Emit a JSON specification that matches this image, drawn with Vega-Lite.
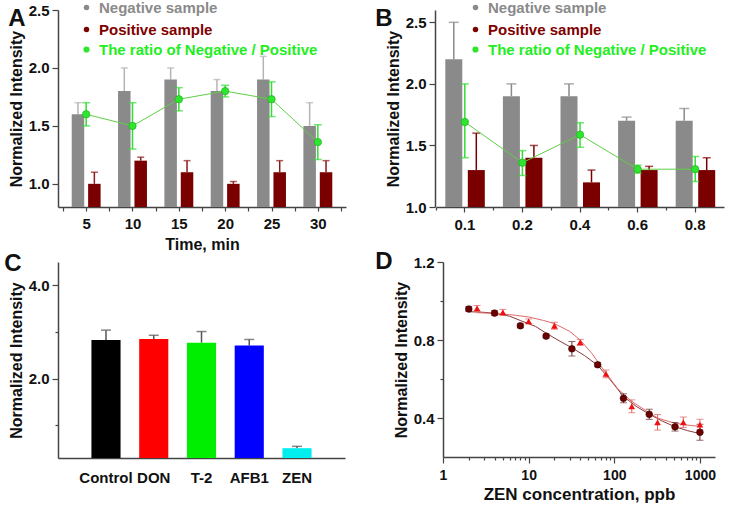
{
  "$schema": "https://vega.github.io/schema/vega-lite/v6.json",
  "background": "white",
  "padding": {"left": 4, "top": 0, "right": 2, "bottom": 2},
  "spacing": -2,
  "resolve": {"scale": {"x": "independent", "y": "independent", "color": "independent", "fill": "independent", "shape": "independent"}},
  "datasets": {
    "dCirc": [
      {"conc": 2, "y": 0.959, "err": 0.012}, {"conc": 4, "y": 0.938, "err": 0.012}, {"conc": 8, "y": 0.873, "err": 0.01},
      {"conc": 16, "y": 0.82, "err": 0.01}, {"conc": 32, "y": 0.755, "err": 0.037}, {"conc": 64, "y": 0.673, "err": 0.01},
      {"conc": 128, "y": 0.501, "err": 0.023}, {"conc": 256, "y": 0.419, "err": 0.026}, {"conc": 512, "y": 0.355, "err": 0.022},
      {"conc": 1000, "y": 0.327, "err": 0.041}
    ],
    "dTri": [
      {"conc": 2.5, "y": 0.962, "err": 0.015}, {"conc": 5, "y": 0.942, "err": 0.015}, {"conc": 10, "y": 0.896, "err": 0.012},
      {"conc": 20, "y": 0.873, "err": 0.018}, {"conc": 40, "y": 0.788, "err": 0.015}, {"conc": 80, "y": 0.626, "err": 0.02},
      {"conc": 160, "y": 0.46, "err": 0.033}, {"conc": 320, "y": 0.378, "err": 0.04}, {"conc": 640, "y": 0.378, "err": 0.027},
      {"conc": 1000, "y": 0.366, "err": 0.027}
    ],
    "fitCirc": [
      {"conc": 2, "y": 0.945}, {"conc": 3, "y": 0.942}, {"conc": 4, "y": 0.937}, {"conc": 6, "y": 0.922}, {"conc": 8, "y": 0.9},
      {"conc": 12, "y": 0.87}, {"conc": 16, "y": 0.835}, {"conc": 24, "y": 0.79}, {"conc": 32, "y": 0.76}, {"conc": 45, "y": 0.72},
      {"conc": 64, "y": 0.67}, {"conc": 90, "y": 0.595}, {"conc": 128, "y": 0.51}, {"conc": 180, "y": 0.46}, {"conc": 256, "y": 0.42},
      {"conc": 360, "y": 0.385}, {"conc": 512, "y": 0.355}, {"conc": 720, "y": 0.335}, {"conc": 1000, "y": 0.32}
    ],
    "fitTri": [
      {"conc": 2.5, "y": 0.94}, {"conc": 3.5, "y": 0.937}, {"conc": 5, "y": 0.933}, {"conc": 7, "y": 0.927}, {"conc": 10, "y": 0.918},
      {"conc": 15, "y": 0.9}, {"conc": 20, "y": 0.884}, {"conc": 30, "y": 0.845}, {"conc": 40, "y": 0.8}, {"conc": 55, "y": 0.73},
      {"conc": 80, "y": 0.63}, {"conc": 110, "y": 0.55}, {"conc": 160, "y": 0.485}, {"conc": 250, "y": 0.43}, {"conc": 320, "y": 0.4},
      {"conc": 450, "y": 0.38}, {"conc": 640, "y": 0.366}, {"conc": 1000, "y": 0.357}
    ]
  },
  "vconcat": [
    {
      "spacing": 29,
      "resolve": {"scale": {"x": "independent", "y": "independent", "color": "independent", "fill": "independent", "shape": "independent"}},
      "hconcat": [
        {
          "width": 288, "height": 197,
          "title": {"text": "A", "offset": -31},
          "data": {"values": [
            {"time": 5, "neg": 1.6, "negHi": 1.7, "pos": 1.0, "posHi": 1.1, "ratio": 1.6, "rLo": 1.5, "rHi": 1.7},
            {"time": 10, "neg": 1.8, "negHi": 2.0, "pos": 1.2, "posHi": 1.23, "ratio": 1.5, "rLo": 1.3, "rHi": 1.7},
            {"time": 15, "neg": 1.9, "negHi": 2.0, "pos": 1.1, "posHi": 1.2, "ratio": 1.73, "rLo": 1.63, "rHi": 1.83},
            {"time": 20, "neg": 1.8, "negHi": 1.9, "pos": 1.0, "posHi": 1.02, "ratio": 1.8, "rLo": 1.75, "rHi": 1.85},
            {"time": 25, "neg": 1.9, "negHi": 2.1, "pos": 1.1, "posHi": 1.2, "ratio": 1.73, "rLo": 1.58, "rHi": 1.88},
            {"time": 30, "neg": 1.5, "negHi": 1.7, "pos": 1.1, "posHi": 1.2, "ratio": 1.36, "rLo": 1.21, "rHi": 1.51}
          ]},
          "encoding": {
            "x": {"field": "time", "type": "quantitative", "scale": {"domain": [2.5, 32.5], "nice": false, "zero": false},
              "axis": {"title": "Time, min", "values": [2.5, 5, 7.5, 10, 12.5, 15, 17.5, 20, 22.5, 25, 27.5, 30, 32.5],
                "labelExpr": "datum.value % 5 === 0 ? datum.label : ''", "tickSize": 4, "labelPadding": 5, "titlePadding": 5}}
          },
          "layer": [
            {"mark": {"type": "rule", "color": "#b4b4b4", "strokeWidth": 1.5, "xOffset": -8.2},
              "encoding": {"y": {"field": "neg", "type": "quantitative", "scale": {"domain": [0.8, 2.5], "nice": false, "zero": false},
                "axis": {"title": "Normalized Intensity", "values": [1, 1.25, 1.5, 1.75, 2, 2.25, 2.5],
                  "labelExpr": "datum.value * 2 === round(datum.value * 2) ? format(datum.value, '.1f') : ''",
                  "tickSize": {"condition": {"test": "datum.value * 2 === round(datum.value * 2)", "value": 6}, "value": 3}}},
                "y2": {"field": "negHi"}}},
            {"mark": {"type": "tick", "orient": "horizontal", "color": "#b4b4b4", "size": 7, "thickness": 1.5, "xOffset": -8.2},
              "encoding": {"y": {"field": "negHi", "type": "quantitative", "scale": {"domain": [0.8, 2.5], "nice": false, "zero": false}}}},
            {"mark": {"type": "bar", "width": 12.5, "xOffset": -8.2},
              "encoding": {"y": {"field": "neg", "type": "quantitative", "scale": {"domain": [0.8, 2.5], "nice": false, "zero": false}},
                "y2": {"datum": 0.8},
                "color": {"datum": "Negative sample", "scale": {"range": ["#8a8a8a"]},
                  "legend": {"title": null, "legendX": 21, "legendY": -10, "symbolSize": 30, "labelColor": "#8a8a8a"}}}},
            {"mark": {"type": "rule", "color": "#8b1a1a", "strokeWidth": 1.5, "xOffset": 8.2},
              "encoding": {"y": {"field": "pos", "type": "quantitative", "scale": {"domain": [0.8, 2.5], "nice": false, "zero": false}},
                "y2": {"field": "posHi"}}},
            {"mark": {"type": "tick", "orient": "horizontal", "color": "#8b1a1a", "size": 7, "thickness": 1.5, "xOffset": 8.2},
              "encoding": {"y": {"field": "posHi", "type": "quantitative", "scale": {"domain": [0.8, 2.5], "nice": false, "zero": false}}}},
            {"mark": {"type": "bar", "width": 12.5, "xOffset": 8.2},
              "encoding": {"y": {"field": "pos", "type": "quantitative", "scale": {"domain": [0.8, 2.5], "nice": false, "zero": false}},
                "y2": {"datum": 0.8},
                "fill": {"datum": "Positive sample", "scale": {"range": ["#7a0000"]},
                  "legend": {"title": null, "legendX": 21, "legendY": 12, "symbolSize": 30, "labelColor": "#800000"}}}},
            {"mark": {"type": "line", "color": "#5fcf45", "strokeWidth": 1},
              "encoding": {"y": {"field": "ratio", "type": "quantitative", "scale": {"domain": [0.8, 2.5], "nice": false, "zero": false}}}},
            {"mark": {"type": "rule", "color": "#33dd33", "strokeWidth": 1.5},
              "encoding": {"y": {"field": "rLo", "type": "quantitative", "scale": {"domain": [0.8, 2.5], "nice": false, "zero": false}},
                "y2": {"field": "rHi"}}},
            {"mark": {"type": "tick", "orient": "horizontal", "color": "#33dd33", "size": 8, "thickness": 1.5},
              "encoding": {"y": {"field": "rLo", "type": "quantitative", "scale": {"domain": [0.8, 2.5], "nice": false, "zero": false}}}},
            {"mark": {"type": "tick", "orient": "horizontal", "color": "#33dd33", "size": 8, "thickness": 1.5},
              "encoding": {"y": {"field": "rHi", "type": "quantitative", "scale": {"domain": [0.8, 2.5], "nice": false, "zero": false}}}},
            {"mark": {"type": "point", "filled": true, "size": 55, "color": "#2ee62e", "stroke": "#20b020", "strokeWidth": 0.7, "opacity": 1},
              "encoding": {"y": {"field": "ratio", "type": "quantitative", "scale": {"domain": [0.8, 2.5], "nice": false, "zero": false}},
                "shape": {"datum": "The ratio of Negative / Positive", "scale": {"range": ["circle"]},
                  "legend": {"title": null, "legendX": 21, "legendY": 32, "symbolSize": 38, "labelColor": "#22ee22", "symbolFillColor": "#2ee62e"}}}}
          ]
        },
        {
          "width": 280, "height": 197,
          "title": {"text": "B", "offset": -31, "dx": -10},
          "data": {"values": [
            {"cat": "0.1", "neg": 2.2, "negHi": 2.5, "pos": 1.3, "posHi": 1.6, "ratio": 1.69, "rLo": 1.4, "rHi": 2.0},
            {"cat": "0.2", "neg": 1.9, "negHi": 2.0, "pos": 1.4, "posHi": 1.5, "ratio": 1.36, "rLo": 1.256, "rHi": 1.458},
            {"cat": "0.4", "neg": 1.9, "negHi": 2.0, "pos": 1.2, "posHi": 1.3, "ratio": 1.587, "rLo": 1.485, "rHi": 1.684},
            {"cat": "0.6", "neg": 1.7, "negHi": 1.73, "pos": 1.3, "posHi": 1.33, "ratio": 1.307, "rLo": 1.275, "rHi": 1.34},
            {"cat": "0.8", "neg": 1.7, "negHi": 1.8, "pos": 1.3, "posHi": 1.4, "ratio": 1.307, "rLo": 1.207, "rHi": 1.41}
          ]},
          "resolve": {"axis": {"x": "independent"}},
          "layer": [
            {"mark": {"type": "rule", "color": "#8a8a8a", "strokeWidth": 1.5, "xOffset": -11},
              "encoding": {
                "x": {"field": "cat", "type": "nominal", "sort": null, "scale": {"range": [1, 289], "paddingInner": 0, "paddingOuter": 0},
                  "axis": {"title": null, "labelAngle": 0, "tickSize": 5, "labelPadding": 5, "orient": "bottom"}},
                "y": {"field": "neg", "type": "quantitative", "scale": {"domain": [1, 2.6], "nice": false, "zero": false},
                "axis": {"title": "Normalized Intensity", "values": [1, 1.25, 1.5, 1.75, 2, 2.25, 2.5],
                  "labelExpr": "datum.value * 2 === round(datum.value * 2) ? format(datum.value, '.1f') : ''",
                  "tickSize": {"condition": {"test": "datum.value * 2 === round(datum.value * 2)", "value": 6}, "value": 3}}},
                "y2": {"field": "negHi"}}},
            {"mark": {"type": "tick", "orient": "horizontal", "color": "#8a8a8a", "size": 10, "thickness": 1.5, "xOffset": -11},
              "encoding": {
                "x": {"field": "cat", "type": "nominal", "sort": null, "scale": {"range": [1, 289], "paddingInner": 0, "paddingOuter": 0}, "axis": null},
                "y": {"field": "negHi", "type": "quantitative", "scale": {"domain": [1, 2.6], "nice": false, "zero": false}}}},
            {"mark": {"type": "bar", "width": 17, "xOffset": -11},
              "encoding": {
                "x": {"field": "cat", "type": "nominal", "sort": null, "scale": {"range": [1, 289], "paddingInner": 0, "paddingOuter": 0}, "axis": null},
                "y": {"field": "neg", "type": "quantitative", "scale": {"domain": [1, 2.6], "nice": false, "zero": false}},
                "y2": {"datum": 1},
                "color": {"datum": "Negative sample", "scale": {"range": ["#8a8a8a"]},
                  "legend": {"title": null, "legendX": 33, "legendY": -10, "symbolSize": 30, "labelColor": "#8a8a8a"}}}},
            {"mark": {"type": "rule", "color": "#7a0000", "strokeWidth": 1.5, "xOffset": 11.5},
              "encoding": {
                "x": {"field": "cat", "type": "nominal", "sort": null, "scale": {"range": [1, 289], "paddingInner": 0, "paddingOuter": 0}, "axis": null},
                "y": {"field": "pos", "type": "quantitative", "scale": {"domain": [1, 2.6], "nice": false, "zero": false}},
                "y2": {"field": "posHi"}}},
            {"mark": {"type": "tick", "orient": "horizontal", "color": "#7a0000", "size": 8, "thickness": 1.5, "xOffset": 11.5},
              "encoding": {
                "x": {"field": "cat", "type": "nominal", "sort": null, "scale": {"range": [1, 289], "paddingInner": 0, "paddingOuter": 0}, "axis": null},
                "y": {"field": "posHi", "type": "quantitative", "scale": {"domain": [1, 2.6], "nice": false, "zero": false}}}},
            {"mark": {"type": "bar", "width": 17, "xOffset": 11.5},
              "encoding": {
                "x": {"field": "cat", "type": "nominal", "sort": null, "scale": {"range": [1, 289], "paddingInner": 0, "paddingOuter": 0}, "axis": null},
                "y": {"field": "pos", "type": "quantitative", "scale": {"domain": [1, 2.6], "nice": false, "zero": false}},
                "y2": {"datum": 1},
                "fill": {"datum": "Positive sample", "scale": {"range": ["#7a0000"]},
                  "legend": {"title": null, "legendX": 33, "legendY": 12, "symbolSize": 30, "labelColor": "#800000"}}}},
            {"mark": {"type": "line", "color": "#5fcf45", "strokeWidth": 1},
              "encoding": {
                "x": {"field": "cat", "type": "nominal", "sort": null, "scale": {"range": [1, 289], "paddingInner": 0, "paddingOuter": 0},
                  "axis": {"title": null, "orient": "bottom", "labels": false, "domain": false, "tickSize": 3, "bandPosition": 0}},
                "y": {"field": "ratio", "type": "quantitative", "scale": {"domain": [1, 2.6], "nice": false, "zero": false}}}},
            {"mark": {"type": "rule", "color": "#33dd33", "strokeWidth": 1.5},
              "encoding": {
                "x": {"field": "cat", "type": "nominal", "sort": null, "scale": {"range": [1, 289], "paddingInner": 0, "paddingOuter": 0}, "axis": null},
                "y": {"field": "rLo", "type": "quantitative", "scale": {"domain": [1, 2.6], "nice": false, "zero": false}},
                "y2": {"field": "rHi"}}},
            {"mark": {"type": "tick", "orient": "horizontal", "color": "#33dd33", "size": 8, "thickness": 1.5},
              "encoding": {
                "x": {"field": "cat", "type": "nominal", "sort": null, "scale": {"range": [1, 289], "paddingInner": 0, "paddingOuter": 0}, "axis": null},
                "y": {"field": "rLo", "type": "quantitative", "scale": {"domain": [1, 2.6], "nice": false, "zero": false}}}},
            {"mark": {"type": "tick", "orient": "horizontal", "color": "#33dd33", "size": 8, "thickness": 1.5},
              "encoding": {
                "x": {"field": "cat", "type": "nominal", "sort": null, "scale": {"range": [1, 289], "paddingInner": 0, "paddingOuter": 0}, "axis": null},
                "y": {"field": "rHi", "type": "quantitative", "scale": {"domain": [1, 2.6], "nice": false, "zero": false}}}},
            {"mark": {"type": "point", "filled": true, "size": 55, "color": "#2ee62e", "stroke": "#20b020", "strokeWidth": 0.7, "opacity": 1},
              "encoding": {
                "x": {"field": "cat", "type": "nominal", "sort": null, "scale": {"range": [1, 289], "paddingInner": 0, "paddingOuter": 0}, "axis": null},
                "y": {"field": "ratio", "type": "quantitative", "scale": {"domain": [1, 2.6], "nice": false, "zero": false}},
                "shape": {"datum": "The ratio of Negative / Positive", "scale": {"range": ["circle"]},
                  "legend": {"title": null, "legendX": 33, "legendY": 32, "symbolSize": 38, "labelColor": "#22ee22", "symbolFillColor": "#2ee62e"}}}}
          ]
        }
      ]
    },
    {
      "spacing": 30,
      "resolve": {"scale": {"x": "independent", "y": "independent", "color": "independent", "fill": "independent", "shape": "independent"}},
      "hconcat": [
        {
          "width": 287, "height": 196,
          "title": {"text": "C", "offset": -14, "dx": -4},
          "data": {"values": [
            {"name": "Control", "val": 2.83, "hi": 3.04},
            {"name": "DON", "val": 2.85, "hi": 2.93},
            {"name": "T-2", "val": 2.77, "hi": 3.01},
            {"name": "AFB1", "val": 2.71, "hi": 2.84},
            {"name": "ZEN", "val": 0.51, "hi": 0.55}
          ]},
          "encoding": {
            "x": {"field": "name", "type": "nominal", "sort": null, "scale": {"paddingInner": 0.39, "paddingOuter": 0.7},
              "axis": {"title": null, "labelAngle": 0, "ticks": false, "labelPadding": 12}}
          },
          "layer": [
            {"mark": {"type": "rule", "color": "#555555", "strokeWidth": 1.5},
              "encoding": {"y": {"field": "val", "type": "quantitative", "scale": {"domain": [0.3, 4.5], "nice": false, "zero": false},
                "axis": {"title": "Normalized Intensity", "values": [1, 2, 3, 4],
                  "labelExpr": "datum.value % 2 === 0 ? format(datum.value, '.1f') : ''",
                  "tickSize": {"condition": {"test": "datum.value % 2 === 0", "value": 6}, "value": 3}}},
                "y2": {"field": "hi"}}},
            {"mark": {"type": "tick", "orient": "horizontal", "color": "#555555", "size": 10, "thickness": 1.5},
              "encoding": {"y": {"field": "hi", "type": "quantitative", "scale": {"domain": [0.3, 4.5], "nice": false, "zero": false}}}},
            {"mark": {"type": "bar"},
              "encoding": {"y": {"field": "val", "type": "quantitative", "scale": {"domain": [0.3, 4.5], "nice": false, "zero": false}},
                "y2": {"datum": 0.3},
                "color": {"field": "name", "type": "nominal",
                  "scale": {"domain": ["Control", "DON", "T-2", "AFB1", "ZEN"], "range": ["#000000", "#ff0000", "#00ee00", "#0000ff", "#00eeee"]},
                  "legend": null}}}
          ]
        },
        {
          "width": 272, "height": 195,
          "title": {"text": "D", "offset": -19, "dx": -18},
          "encoding": {
            "x": {"field": "conc", "type": "quantitative", "scale": {"type": "log", "domain": [1, 1500], "nice": false},
              "axis": {"title": "ZEN concentration, ppb", "titleFontSize": 17, "labelFontSize": 14,
                "values": [1, 2, 3, 4, 5, 6, 7, 8, 9, 10, 20, 30, 40, 50, 60, 70, 80, 90, 100, 200, 300, 400, 500, 600, 700, 800, 900, 1000],
                "labelExpr": "indexof([1, 10, 100, 1000], datum.value) >= 0 ? datum.value + '' : ''",
                "tickSize": {"condition": {"test": "indexof([1, 10, 100, 1000], datum.value) >= 0", "value": 6}, "value": 3},
                "labelPadding": 5}},
            "y": {"field": "y", "type": "quantitative", "scale": {"domain": [0.2, 1.2], "nice": false, "zero": false},
              "axis": {"title": "Normalized Intensity", "values": [0.4, 0.6, 0.8, 1.0, 1.2],
                "labelExpr": "round(datum.value * 10) % 4 === 0 ? format(datum.value, '.1f') : ''",
                "tickSize": {"condition": {"test": "round(datum.value * 10) % 4 === 0", "value": 6}, "value": 3}}}
          },
          "layer": [
            {"data": {"name": "fitCirc"}, "mark": {"type": "line", "color": "#8c3a3a", "strokeWidth": 1}},
            {"data": {"name": "fitTri"}, "mark": {"type": "line", "color": "#e06a6a", "strokeWidth": 1}},
            {"data": {"name": "dCirc"}, "mark": {"type": "errorbar", "color": "#6e2a2a", "thickness": 1, "ticks": {"size": 7, "thickness": 1}},
              "encoding": {"yError": {"field": "err"}}},
            {"data": {"name": "dTri"}, "mark": {"type": "errorbar", "color": "#e06060", "thickness": 1, "ticks": {"size": 7, "thickness": 1}},
              "encoding": {"yError": {"field": "err"}}},
            {"data": {"name": "dCirc"}, "mark": {"type": "point", "shape": "circle", "filled": true, "size": 45, "color": "#6b0000", "stroke": "#3a0000", "strokeWidth": 0.6, "opacity": 1}},
            {"data": {"name": "dTri"}, "mark": {"type": "point", "shape": "triangle-up", "filled": true, "size": 45, "color": "#ee1111", "opacity": 1}}
          ]
        }
      ]
    }
  ],
  "config": {
    "font": "Liberation Sans",
    "view": {"stroke": null},
    "axis": {
      "grid": false, "domainColor": "#444444", "domainWidth": 1.5, "tickColor": "#444444", "tickWidth": 1.2,
      "labelFont": "Liberation Sans", "labelFontWeight": "bold", "labelFontSize": 15, "labelColor": "#111111",
      "titleFont": "Liberation Sans", "titleFontWeight": "bold", "titleFontSize": 16, "titleColor": "#111111",
      "labelPadding": 3, "titlePadding": 4, "labelOverlap": false, "labelFlush": false
    },
    "legend": {
      "orient": "none", "symbolType": "circle", "labelFont": "Liberation Sans", "labelFontSize": 15, "labelFontWeight": "bold",
      "labelOffset": 5, "padding": 0, "symbolStrokeWidth": 0, "labelLimit": 0
    },
    "title": {"font": "Liberation Sans", "fontSize": 24, "fontWeight": "bold", "anchor": "start", "frame": "bounds", "color": "#111111"}
  }
}
